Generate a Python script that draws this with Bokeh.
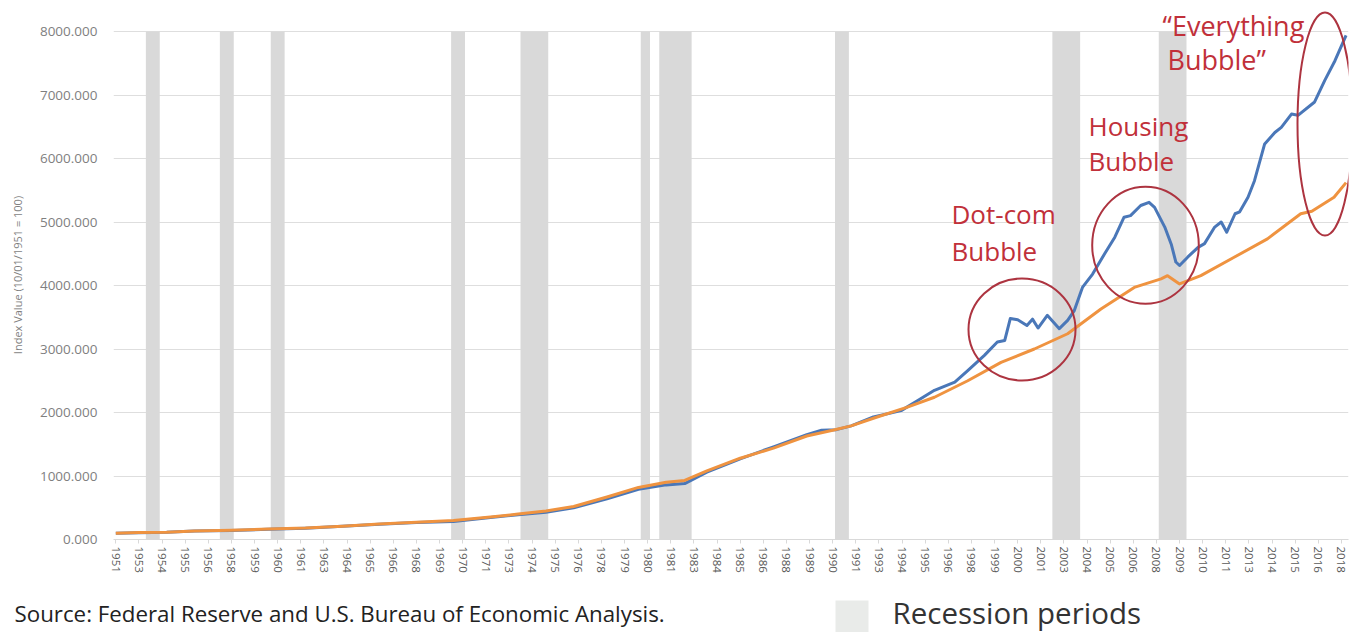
from bokeh.plotting import figure
from bokeh.layouts import column
from bokeh.models import FixedTicker, NumeralTickFormatter, Label, Range1d
from bokeh.core.properties import value
from bokeh.embed import file_html
from bokeh.resources import INLINE

# ---------------- data ----------------
# x axis: one category per quarter, starting 1951Q4; labels every 5 quarters
tick_labels = ["1951", "1953", "1954", "1955", "1956", "1958", "1959", "1960",
               "1961", "1963", "1964", "1965", "1966", "1968", "1969", "1970",
               "1971", "1973", "1974", "1975", "1976", "1978", "1979", "1980",
               "1981", "1983", "1984", "1985", "1986", "1988", "1989", "1990",
               "1991", "1993", "1994", "1995", "1996", "1998", "1999", "2000",
               "2001", "2003", "2004", "2005", "2006", "2008", "2009", "2010",
               "2011", "2013", "2014", "2015", "2016", "2018"]
y_ticks = [0, 1000, 2000, 3000, 4000, 5000, 6000, 7000, 8000]

# recession shading, as drawn (first and last shaded quarter)
recession_start = ["1953Q3", "1957Q3", "1960Q2", "1970Q1", "1973Q4",
                   "1980Q2", "1981Q2", "1990Q4", "2002Q3", "2008Q2"]
recession_end = ["1954Q1", "1958Q1", "1960Q4", "1970Q3", "1975Q1",
                 "1980Q3", "1982Q4", "1991Q2", "2003Q4", "2009Q3"]

# blue series (decimal year, index value)
blue_years = [1951.75, 1953.0, 1954.5, 1956.0, 1958.0, 1960.0, 1962.0, 1964.0,
              1966.0, 1968.0, 1970.0, 1972.0, 1973.5, 1975.0, 1976.5, 1978.3,
              1980.0, 1981.5, 1982.5, 1983.7, 1985.5, 1987.3, 1989.1, 1989.9,
              1990.7, 1991.5, 1992.7, 1994.2, 1995.1, 1996.0, 1997.1, 1997.8,
              1998.7, 1999.4, 1999.8, 2000.1, 2000.5, 2001.0, 2001.3, 2001.6,
              2002.1, 2002.75, 2003.2, 2003.55, 2004.0, 2004.55, 2005.2,
              2005.75, 2006.25, 2006.6, 2007.15, 2007.6, 2007.9, 2008.45,
              2008.8, 2009.05, 2009.25, 2009.7, 2010.25, 2010.6, 2011.15,
              2011.5, 2011.8, 2012.25, 2012.5, 2012.95, 2013.3, 2013.85,
              2014.4, 2014.75, 2015.3, 2015.65, 2016.55, 2017.1, 2017.65,
              2018.25]
blue_values = [100, 108, 115, 133, 140, 160, 178, 208,
               240, 268, 285, 345, 390, 430, 500, 640,
               790, 860, 880, 1060, 1270, 1460, 1650, 1720,
               1730, 1790, 1930, 2030, 2190, 2350, 2480, 2660,
               2900, 3110, 3135, 3480, 3460, 3370, 3470, 3330,
               3530, 3320, 3450, 3600, 3970, 4180, 4500,
               4760, 5075, 5100, 5260, 5310, 5230, 4920,
               4650, 4370, 4315, 4450, 4600, 4660, 4920,
               5000, 4840, 5130, 5160, 5390, 5650, 6230,
               6410, 6490, 6700, 6680, 6890, 7230, 7540,
               7940]

# orange series (decimal year, index value)
orange_years = [1951.75, 1953.0, 1954.5, 1956.0, 1958.0, 1960.0, 1962.0,
                1964.0, 1966.0, 1968.0, 1970.0, 1972.0, 1973.5, 1975.0,
                1976.5, 1978.3, 1980.0, 1981.5, 1982.5, 1983.7, 1985.5,
                1987.3, 1989.1, 1990.5, 1991.5, 1992.7, 1994.5, 1996.0,
                1997.8, 1999.6, 2001.4, 2003.2, 2005.0, 2006.8, 2008.25,
                2008.6, 2009.25, 2010.4, 2012.2, 2014.0, 2015.8, 2016.4,
                2017.6, 2018.25]
orange_values = [100, 112, 115, 135, 145, 165, 180,
                 210, 245, 270, 300, 355, 400, 450,
                 520, 670, 820, 900, 930, 1080, 1280,
                 1440, 1630, 1720, 1790, 1910, 2080, 2240,
                 2500, 2790, 3000, 3240, 3630, 3970, 4105,
                 4155, 4025, 4155, 4445, 4735, 5130, 5170,
                 5390, 5620]

source_text = "Source: Federal Reserve and U.S. Bureau of Economic Analysis."
legend_text = "Recession periods"


# ---------------- helpers ----------------
def year_to_idx(y):
    return (y - 1951.75) * 4.0


def quarter_to_idx(s):
    yr, q = s.split("Q")
    return (int(yr) - 1951) * 4 + int(q) - 4


tick_pos = [i * 5 for i in range(len(tick_labels))]

FRAME_L, FRAME_T, FRAME_W, FRAME_H = 113, 10, 1235, 529
BOTTOM = 45
PX_PER_Q = 4.625
PX_PER_V = 0.0635
DESC = 0.37  # baseline correction, fraction of font size


def px_x(page_x):
    return -0.5 + (page_x - FRAME_L) / PX_PER_Q


def px_y(page_y):
    return (FRAME_T + FRAME_H - page_y) / PX_PER_V


p = figure(frame_width=FRAME_W, frame_height=FRAME_H,
           x_range=Range1d(-0.5, -0.5 + FRAME_W / PX_PER_Q),
           y_range=Range1d(0, FRAME_H / PX_PER_V),
           output_backend="svg", toolbar_location=None,
           min_border_left=FRAME_L, min_border_right=1354 - FRAME_L - FRAME_W,
           min_border_top=FRAME_T, min_border_bottom=BOTTOM)
p.frame_align = False
p.outline_line_color = None
p.background_fill_color = "white"
p.xgrid.visible = False
p.ygrid.grid_line_color = "#dedede"
p.ygrid.grid_line_width = 1

# y axis
yax = p.yaxis[0]
yax.ticker = FixedTicker(ticks=y_ticks)
yax.formatter = NumeralTickFormatter(format="0.000")
yax.axis_line_color = None
yax.major_tick_line_color = None
yax.minor_tick_line_color = None
yax.major_label_text_font = "Open Sans"
yax.major_label_text_font_size = "13.5px"
yax.major_label_text_color = "#7f7f7f"
yax.major_label_standoff = 10
yax.axis_label = "Index Value (10/01/1951 = 100)"
yax.axis_label_text_font = "Open Sans"
yax.axis_label_text_font_size = "11px"
yax.axis_label_text_font_style = "normal"
yax.axis_label_text_color = "#7f7f7f"
yax.axis_label_standoff = 12

# x axis
xax = p.xaxis[0]
xax.ticker = FixedTicker(ticks=tick_pos)
xax.major_label_overrides = {tp: lab for tp, lab in zip(tick_pos, tick_labels)}
xax.major_label_orientation = "vertical"
xax.major_label_text_font = "Open Sans"
xax.major_label_text_font_size = "11.5px"
xax.major_label_text_color = "#595959"
xax.major_label_standoff = 3
xax.axis_line_color = "#d9d9d9"
xax.major_tick_line_color = "#d9d9d9"
xax.major_tick_in = 0
xax.major_tick_out = 4
xax.minor_tick_line_color = None

# recession bars
rec_left = [quarter_to_idx(s) - 0.5 for s in recession_start]
rec_right = [quarter_to_idx(s) + 0.5 for s in recession_end]
p.quad(left=rec_left, right=rec_right, bottom=0, top=8000,
       fill_color="#d9d9d9", line_color=None)

# series
p.line([year_to_idx(y) for y in blue_years], blue_values,
       line_color="#4a77b8", line_width=3, line_join="round")
p.line([year_to_idx(y) for y in orange_years], orange_values,
       line_color="#ef9340", line_width=3, line_join="round")

# bubble ellipses
p.ellipse(x=[px_x(1021.5), px_x(1145), px_x(1324.5)],
          y=[px_y(329), px_y(244.7), px_y(123.5)],
          width=[107 / PX_PER_Q, 106.6 / PX_PER_Q, 55 / PX_PER_Q],
          height=[102 / PX_PER_V, 117 / PX_PER_V, 223 / PX_PER_V],
          fill_color=None, line_color="#ad3440", line_width=2)

RED = "#c1303a"
for txt, px, py, fs in [("Dot-com", 951, 223, 26), ("Bubble", 951, 260, 26),
                        ("Housing", 1088, 135, 26), ("Bubble", 1088, 170, 26),
                        ("\u201cEverything", 1162, 35, 27),
                        ("Bubble\u201d", 1167, 68.5, 27)]:
    p.add_layout(Label(x=px_x(px), y=px_y(py - DESC * fs), text=txt,
                       text_font="Open Sans", text_font_size=f"{fs}px",
                       text_color=RED, text_baseline="alphabetic",
                       text_align="left"))

# ---------------- footer: source note + recession legend ----------------
FOOT_T = FRAME_T + FRAME_H + BOTTOM
f = figure(frame_width=1354, frame_height=632 - FOOT_T,
           x_range=Range1d(0, 1354), y_range=Range1d(632, FOOT_T),
           x_axis_type=None, y_axis_type=None,
           output_backend="svg", toolbar_location=None,
           min_border=0, min_border_left=0, min_border_right=0,
           min_border_top=0, min_border_bottom=0)
f.frame_align = False
f.outline_line_color = None
f.xgrid.visible = False
f.ygrid.visible = False
f.text(x=[14], y=[621 - DESC * 22.3], text=[source_text],
       text_font=value("Open Sans"), text_font_size=value("22.3px"),
       text_color="#222222", text_baseline="alphabetic", text_align="left")
f.quad(left=[835], right=[868], top=[600], bottom=[632],
       fill_color="#e9ebe9", line_color=None)
f.text(x=[892], y=[623 - DESC * 29.5], text=[legend_text],
       text_font=value("Open Sans"), text_font_size=value("29.5px"),
       text_color="#333333", text_baseline="alphabetic", text_align="left")

layout = column(p, f, spacing=0)
open("out.html", "w").write(file_html(layout, INLINE))
